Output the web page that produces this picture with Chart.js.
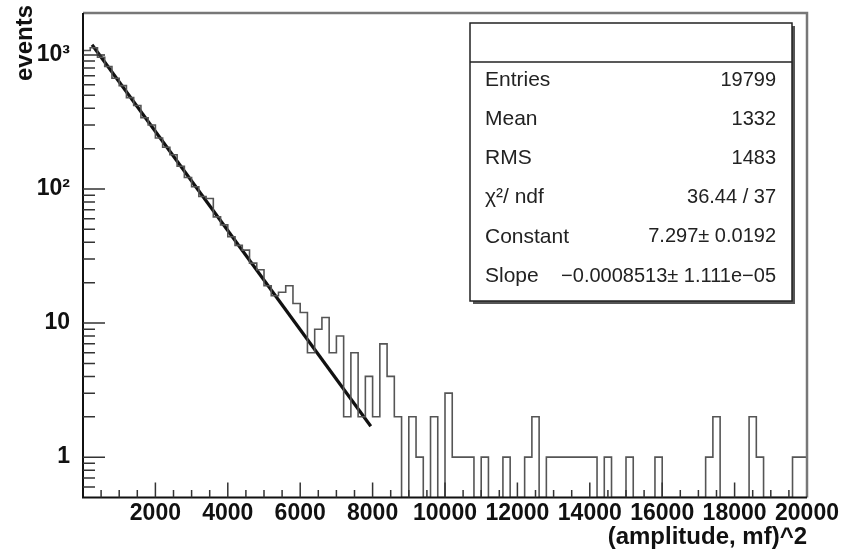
<!DOCTYPE html>
<html>
<head>
<meta charset="utf-8">
<title>events - (amplitude, mf)^2</title>
<script src="https://cdn.jsdelivr.net/npm/chart.js@4.4.0/dist/chart.umd.min.js"></script>
<style>
    html, body { margin: 0; padding: 0; background: #ffffff; }
    #grafico { display: block; }
</style>
</head>
<body>
<canvas id="grafico" width="851" height="549"></canvas>
<script>
// Histograma: 100 bins de largura 200 entre 0 e 20000
const binWidth = 200;
const xMin = 0;
const xMax = 20000;
const yMin = 0.5;
const yMax = 2055;

// Contagens por bin
const counts = [
    1080, 1130, 960, 820, 670, 590, 480, 420, 340, 300,
    240, 205, 180, 148, 122, 104, 88, 85, 62, 54,
    44, 38, 35, 28, 25, 19, 16, 17, 19, 14,
    12, 6, 9, 11, 6, 8, 2, 6, 2, 4,
    2, 7, 4, 2, 0, 2, 1, 0, 2, 0,
    3, 1, 1, 1, 0, 1, 0, 0, 1, 0,
    0, 1, 2, 0, 1, 1, 1, 1, 1, 1,
    1, 0, 1, 0, 0, 1, 0, 0, 0, 1,
    0, 0, 0, 0, 0, 0, 1, 2, 0, 0,
    0, 0, 2, 1, 0, 0, 0, 0, 1, 1
];

// Reta do ajuste exponencial (extremos)
const fitX = [250, 7950];
const fitY = [1192, 1.7];

// Rótulos dos eixos
const xTickValues = [2000, 4000, 6000, 8000, 10000, 12000, 14000, 16000, 18000, 20000];
const yTickValues = [1, 10, 100, 1000];
const yTickLabels = ['1', '10', '10\u00B2', '10\u00B3'];

// Caixa de estatísticas
const statLabels = ['Entries', 'Mean', 'RMS', '\u03C7\u00B2/ ndf', 'Constant', 'Slope'];
const statValues = ['19799', '1332', '1483', '36.44 / 37', '7.297\u00B1 0.0192', '\u22120.0008513\u00B1 1.111e\u221205'];

const familia = '"Liberation Sans", Arial, sans-serif';

// Pontos do histograma (bins vazios ficam no fundo do quadro)
function montarPontosHistograma() {
    const pontos = counts.map((c, i) => ({ x: xMin + i * binWidth, y: c > 0 ? c : yMin }));
    const ultimo = counts[counts.length - 1];
    pontos.push({ x: xMax, y: ultimo > 0 ? ultimo : yMin });
    return pontos;
}

// Plugin para moldura, marcas internas, caixa de estatísticas e título do eixo y
const pluginEstiloRoot = {
    id: 'estiloRoot',
    afterDatasetsDraw(chart) {
        const ctx = chart.ctx;
        const area = chart.chartArea;
        const sx = chart.scales.x;
        const sy = chart.scales.y;

        ctx.save();
        // Moldura superior e direita
        ctx.strokeStyle = '#777777';
        ctx.lineWidth = 2.5;
        ctx.beginPath();
        ctx.moveTo(area.left, area.top);
        ctx.lineTo(area.right, area.top);
        ctx.lineTo(area.right, area.bottom);
        ctx.stroke();

        // Eixos esquerdo e inferior
        ctx.strokeStyle = '#111111';
        ctx.lineWidth = 2;
        ctx.beginPath();
        ctx.moveTo(area.left, area.top);
        ctx.lineTo(area.left, area.bottom);
        ctx.lineTo(area.right, area.bottom);
        ctx.stroke();

        // Marcas do eixo x (a cada 500, maiores a cada 2000)
        ctx.lineWidth = 1.5;
        ctx.strokeStyle = '#333333';
        ctx.beginPath();
        for (let v = 500; v < xMax; v += 500) {
            const px = sx.getPixelForValue(v);
            const comp = v % 2000 === 0 ? 15 : 7.5;
            ctx.moveTo(px, area.bottom);
            ctx.lineTo(px, area.bottom - comp);
        }
        // Marcas do eixo y (décadas e subdivisões)
        for (let dec = 0.1; dec < 1000; dec *= 10) {
            for (let m = 1; m <= 9; m++) {
                const v = m * dec;
                if (v <= yMin) continue;
                const py = sy.getPixelForValue(v);
                const comp = m === 1 ? 22 : 12;
                ctx.moveTo(area.left, py);
                ctx.lineTo(area.left + comp, py);
            }
        }
        const py1000 = sy.getPixelForValue(1000);
        ctx.moveTo(area.left, py1000);
        ctx.lineTo(area.left + 22, py1000);
        ctx.stroke();

        // Caixa de estatísticas
        const bx = 470, by = 23, bw = 322, bh = 278;
        ctx.fillStyle = '#555555';
        ctx.fillRect(bx + 3, by + 3, bw, bh);
        ctx.fillStyle = '#ffffff';
        ctx.fillRect(bx, by, bw, bh);
        ctx.strokeStyle = '#222222';
        ctx.lineWidth = 1.5;
        ctx.strokeRect(bx, by, bw, bh);
        ctx.beginPath();
        ctx.moveTo(bx, 62);
        ctx.lineTo(bx + bw, 62);
        ctx.stroke();

        ctx.fillStyle = '#222222';
        ctx.textBaseline = 'middle';
        statLabels.forEach((rotulo, i) => {
            const y = 80 + i * 39.2;
            ctx.font = '21px ' + familia;
            ctx.textAlign = 'left';
            ctx.fillText(rotulo, 485, y);
            ctx.font = '20px ' + familia;
            ctx.textAlign = 'right';
            ctx.fillText(statValues[i], 776, y);
        });

        // Título do eixo y
        ctx.translate(25, 5);
        ctx.rotate(-Math.PI / 2);
        ctx.font = 'bold 24px ' + familia;
        ctx.fillStyle = '#111111';
        ctx.textAlign = 'right';
        ctx.textBaseline = 'middle';
        ctx.fillText('events', 0, 0);
        ctx.restore();
    }
};

function configurarGrafico() {
    const ctx = document.getElementById('grafico');
    window.graficoHistograma = new Chart(ctx, {
        type: 'line',
        data: {
            datasets: [
                {
                    label: 'histograma',
                    data: montarPontosHistograma(),
                    stepped: true,
                    borderColor: '#555555',
                    borderWidth: 1.6,
                    pointRadius: 0,
                    fill: false
                },
                {
                    label: 'ajuste',
                    data: fitX.map((x, i) => ({ x: x, y: fitY[i] })),
                    borderColor: '#111111',
                    borderWidth: 3.2,
                    pointRadius: 0,
                    fill: false
                }
            ]
        },
        options: {
            responsive: false,
            animation: false,
            devicePixelRatio: 1,
            layout: { padding: { top: 13, right: 44, left: 0, bottom: 0 } },
            plugins: {
                legend: { display: false },
                tooltip: { enabled: false }
            },
            scales: {
                x: {
                    type: 'linear',
                    min: xMin,
                    max: xMax,
                    afterBuildTicks: scale => { scale.ticks = xTickValues.map(v => ({ value: v })); },
                    afterFit: scale => {
                        scale.height = 51.5;
                        scale.paddingLeft = 0;
                        scale.paddingRight = 0;
                    },
                    grid: { display: false, drawTicks: false },
                    border: { display: false },
                    ticks: {
                        color: '#111111',
                        font: { family: familia, size: 23, weight: 'bold' },
                        padding: 2,
                        maxRotation: 0,
                        autoSkip: false,
                        callback: v => String(v)
                    },
                    title: {
                        display: true,
                        text: '(amplitude, mf)^2',
                        align: 'end',
                        color: '#111111',
                        font: { family: familia, size: 24, weight: 'bold', lineHeight: 1.0 },
                        padding: 0
                    }
                },
                y: {
                    type: 'logarithmic',
                    min: yMin,
                    max: yMax,
                    afterBuildTicks: scale => { scale.ticks = yTickValues.map(v => ({ value: v })); },
                    afterFit: scale => {
                        scale.width = 83;
                        scale.paddingTop = 0;
                        scale.paddingBottom = 0;
                    },
                    grid: { display: false, drawTicks: false },
                    border: { display: false },
                    ticks: {
                        color: '#111111',
                        font: { family: familia, size: 23, weight: 'bold' },
                        padding: 13,
                        callback: v => {
                            const idx = yTickValues.indexOf(v);
                            return idx >= 0 ? yTickLabels[idx] : '';
                        }
                    }
                }
            }
        },
        plugins: [pluginEstiloRoot]
    });
}

document.addEventListener('DOMContentLoaded', function() {
    configurarGrafico();
});
</script>
</body>
</html>
